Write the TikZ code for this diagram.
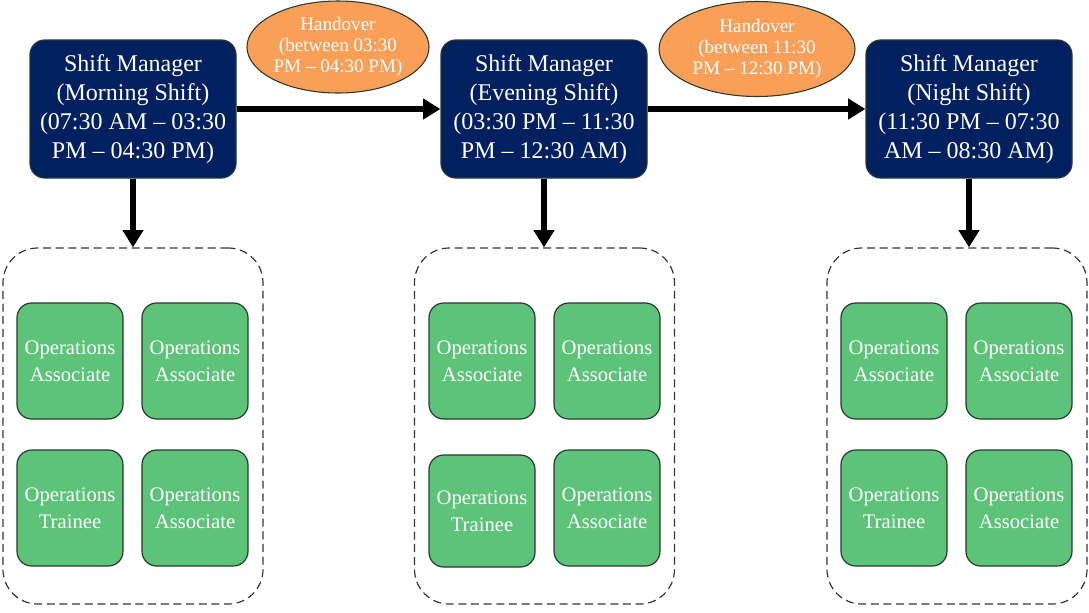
\documentclass[tikz,border=0pt]{standalone}
\usepackage{fontspec}
\setmainfont{Liberation Serif}
\usetikzlibrary{arrows.meta,shapes.geometric}
\definecolor{navy}{RGB}{0,32,96}
\definecolor{edgec}{RGB}{38,58,48}
\definecolor{orangec}{RGB}{249,159,88}
\definecolor{greenc}{RGB}{92,195,121}
\definecolor{dashc}{RGB}{50,56,54}
\tikzset{
  mgr/.style={rectangle, rounded corners=11pt, fill=navy, draw=edgec, line width=0.9pt,
    minimum width=154.5pt, minimum height=103.5pt, inner sep=0pt, align=center,
    text=white, font=\fontsize{18}{21.75}\selectfont},
  hand/.style={ellipse, fill=orangec, draw=edgec, line width=0.8pt, inner sep=0pt,
    align=center, text=white, font=\fontsize{14.3}{16}\selectfont},
  staff/.style={rectangle, rounded corners=11pt, fill=greenc, draw=edgec, line width=0.9pt,
    minimum width=79.5pt, minimum height=87pt, inner sep=0pt, align=center,
    text=white, font=\fontsize{15.5}{20}\selectfont},
  team/.style={rectangle, rounded corners=26pt, draw=dashc, line width=0.9pt,
    dash pattern=on 6pt off 3.5pt, minimum width=195pt, minimum height=267pt, inner sep=0pt},
  flow/.style={line width=4.4pt, -{Triangle[length=13pt,width=15pt]}},
}
\begin{document}
\begin{tikzpicture}[x=0.75pt,y=-0.75pt]
\useasboundingbox (0,0) rectangle (1089,612);
% managers
\node[mgr] (m1) at (133,109) {Shift Manager\\(Morning Shift)\\(07:30 AM -- 03:30\\PM -- 04:30 PM)};
\node[mgr] (m2) at (544,109) {Shift Manager\\(Evening Shift)\\(03:30 PM -- 11:30\\PM -- 12:30 AM)};
\node[mgr] (m3) at (969,109) {Shift Manager\\(Night Shift)\\(11:30 PM -- 07:30\\AM -- 08:30 AM)};
% handovers
\node[hand, minimum width=136.5pt, minimum height=69pt] (h1) at (338,47) {Handover\\(between 03:30\\PM -- 04:30 PM)};
\node[hand, minimum width=147pt, minimum height=71.25pt] (h2) at (757,49) {Handover\\(between 11:30\\PM -- 12:30 PM)};
% teams
\node[team] (t1) at (133,426) {};
\node[team] (t2) at (544.5,426) {};
\node[team] (t3) at (957,426) {};
% staff group 1
\node[staff] (a11) at (70,361) {Operations\\Associate};
\node[staff] (a12) at (195,361) {Operations\\Associate};
\node[staff] (a13) at (70,508) {Operations\\Trainee};
\node[staff] (a14) at (195,508) {Operations\\Associate};
% staff group 2
\node[staff] (a21) at (482,361) {Operations\\Associate};
\node[staff] (a22) at (607,361) {Operations\\Associate};
\node[staff, minimum height=84pt] (a23) at (482,511) {Operations\\Trainee};
\node[staff] (a24) at (607,508) {Operations\\Associate};
% staff group 3
\node[staff] (a31) at (894,361) {Operations\\Associate};
\node[staff] (a32) at (1019,361) {Operations\\Associate};
\node[staff] (a33) at (894,508) {Operations\\Trainee};
\node[staff] (a34) at (1019,508) {Operations\\Associate};
% arrows
\draw[flow] (m1.east) -- (m2.west);
\draw[flow] (m2.east) -- (m3.west);
\draw[flow] (m1.south) -- (m1.south |- t1.north);
\draw[flow] (m2.south) -- (m2.south |- t2.north);
\draw[flow] (m3.south) -- (m3.south |- t3.north);
\end{tikzpicture}
\end{document}
